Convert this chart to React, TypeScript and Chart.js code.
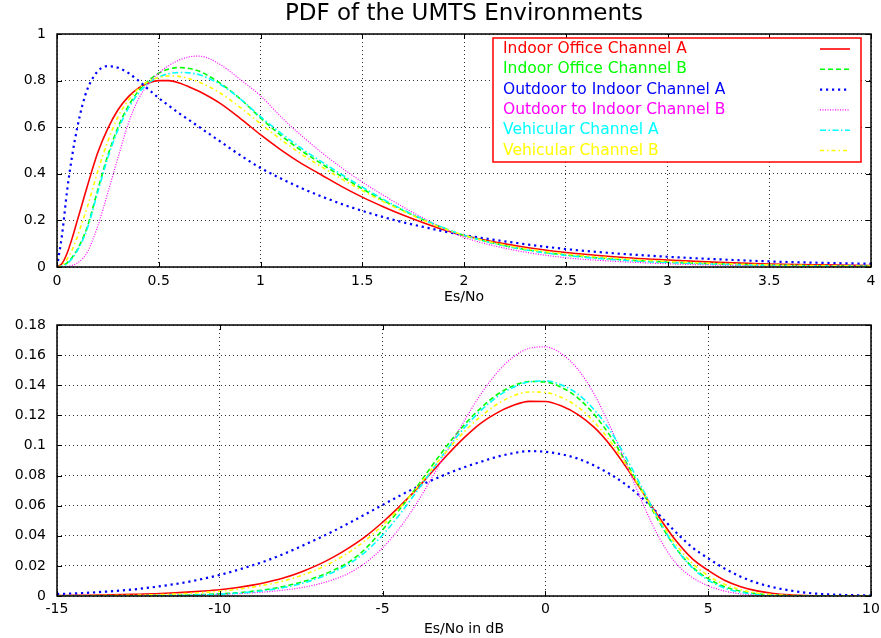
import { useEffect, useRef } from 'react';
import { Chart, registerables } from 'chart.js';

Chart.register(...registerables);

const FONT = "'DejaVu Sans', 'Liberation Sans', sans-serif";

const CHART_TITLE = 'PDF of the UMTS Environments';
const TOP_X_TITLE = 'Es/No';
const BOTTOM_X_TITLE = 'Es/No in dB';

const SERIES_NAMES = [
  'Indoor Office Channel A',
  'Indoor Office Channel B',
  'Outdoor to Indoor Channel A',
  'Outdoor to Indoor Channel B',
  'Vehicular Channel A',
  'Vehicular Channel B',
];
const SERIES_COLORS = ['#ff0000', '#00ff00', '#0000ff', '#ff00ff', '#00ffff', '#ffff00'];
const SERIES_DASH = [[], [5, 3], [2.2, 3.8], [1, 1.5], [6, 2.5, 1.5, 2.5], [4, 3, 1.5, 3]];
const SERIES_WIDTH = [1.6, 1.6, 2.2, 1.2, 1.6, 1.6];

// ---- top panel: linear Es/No ----
const LIN_X = [0, 0.025, 0.05, 0.075, 0.1, 0.125, 0.15, 0.2, 0.25, 0.3, 0.35, 0.4, 0.45, 0.5, 0.55, 0.6, 0.65, 0.7, 0.8, 0.9, 1.0, 1.1, 1.2, 1.3, 1.4, 1.5, 1.6, 1.7, 1.8, 1.9, 2.0, 2.25, 2.5, 2.75, 3.0, 3.25, 3.5, 3.75, 4.0];
const LIN_IO_A = [0, 0.015, 0.06, 0.125, 0.2, 0.275, 0.35, 0.49, 0.595, 0.675, 0.73, 0.768, 0.79, 0.8, 0.8, 0.79, 0.773, 0.753, 0.703, 0.638, 0.568, 0.503, 0.445, 0.395, 0.345, 0.3, 0.26, 0.223, 0.19, 0.16, 0.135, 0.092, 0.062, 0.043, 0.03, 0.02, 0.013, 0.009, 0.006];
const LIN_IO_B = [0, 0.004, 0.018, 0.042, 0.075, 0.12, 0.175, 0.33, 0.48, 0.6, 0.69, 0.755, 0.8, 0.832, 0.85, 0.856, 0.852, 0.84, 0.79, 0.722, 0.64, 0.565, 0.5, 0.443, 0.388, 0.336, 0.287, 0.243, 0.203, 0.167, 0.136, 0.083, 0.052, 0.033, 0.021, 0.013, 0.008, 0.005, 0.003];
const LIN_OI_A = [0, 0.14, 0.33, 0.48, 0.6, 0.695, 0.765, 0.84, 0.862, 0.855, 0.833, 0.8, 0.762, 0.725, 0.692, 0.66, 0.63, 0.6, 0.54, 0.48, 0.425, 0.38, 0.339, 0.303, 0.27, 0.241, 0.215, 0.192, 0.172, 0.153, 0.137, 0.104, 0.077, 0.058, 0.044, 0.033, 0.024, 0.018, 0.014];
const LIN_OI_B = [0, 0, 0.002, 0.007, 0.017, 0.035, 0.065, 0.175, 0.32, 0.47, 0.615, 0.72, 0.787, 0.832, 0.865, 0.888, 0.902, 0.905, 0.87, 0.805, 0.735, 0.645, 0.565, 0.492, 0.425, 0.365, 0.31, 0.258, 0.21, 0.165, 0.127, 0.072, 0.04, 0.024, 0.014, 0.008, 0.005, 0.003, 0.002];
const LIN_VE_A = [0, 0.003, 0.015, 0.038, 0.07, 0.113, 0.168, 0.32, 0.47, 0.59, 0.68, 0.745, 0.79, 0.815, 0.83, 0.835, 0.833, 0.825, 0.785, 0.722, 0.645, 0.575, 0.51, 0.452, 0.396, 0.343, 0.292, 0.246, 0.204, 0.168, 0.136, 0.082, 0.05, 0.031, 0.019, 0.012, 0.007, 0.004, 0.0025];
const LIN_VE_B = [0, 0.008, 0.035, 0.075, 0.13, 0.195, 0.26, 0.41, 0.54, 0.645, 0.715, 0.765, 0.797, 0.813, 0.82, 0.818, 0.808, 0.793, 0.748, 0.685, 0.615, 0.547, 0.485, 0.43, 0.377, 0.328, 0.282, 0.24, 0.2, 0.165, 0.136, 0.086, 0.056, 0.037, 0.024, 0.015, 0.009, 0.006, 0.004];

// ---- bottom panel: Es/No in dB ----
const DB_X = [-15, -14.5, -14, -13.5, -13, -12.5, -12, -11.5, -11, -10.5, -10, -9.5, -9, -8.5, -8, -7.5, -7, -6.5, -6, -5.5, -5, -4.5, -4, -3.5, -3, -2.5, -2, -1.5, -1, -0.5, 0, 0.5, 1, 1.5, 2, 2.5, 3, 3.5, 4, 4.5, 5, 5.5, 6, 6.5, 7, 7.5, 8, 8.5, 9, 9.5, 10];
const DB_IO_A = [0.0003, 0.0004, 0.0005, 0.0007, 0.0009, 0.0012, 0.0015, 0.002, 0.0026, 0.0033, 0.0042, 0.0055, 0.0072, 0.0095, 0.0123, 0.016, 0.0205, 0.026, 0.0325, 0.04, 0.049, 0.059, 0.07, 0.082, 0.094, 0.105, 0.1145, 0.1215, 0.1265, 0.1293, 0.1292, 0.1262, 0.1205, 0.112, 0.1, 0.085, 0.0685, 0.052, 0.037, 0.025, 0.017, 0.0105, 0.0062, 0.0034, 0.0017, 0.0008, 0.0003, 0.0001, 0.00004, 0.00001, 0];
const DB_IO_B = [0.00002, 0.00003, 0.00005, 0.00008, 0.00012, 0.00018, 0.00028, 0.00042, 0.00063, 0.00095, 0.0014, 0.0021, 0.0031, 0.0045, 0.0065, 0.0092, 0.0127, 0.0172, 0.023, 0.032, 0.044, 0.057, 0.071, 0.086, 0.1005, 0.1135, 0.1245, 0.1335, 0.1395, 0.1425, 0.1422, 0.1385, 0.1315, 0.1205, 0.106, 0.088, 0.0685, 0.049, 0.032, 0.0195, 0.0115, 0.0062, 0.0031, 0.0014, 0.0006, 0.0002, 0.00007, 0.00002, 0, 0, 0];
const DB_OI_A = [0.0013, 0.0017, 0.0022, 0.0029, 0.0037, 0.0047, 0.006, 0.0075, 0.0093, 0.0115, 0.014, 0.017, 0.0203, 0.024, 0.0283, 0.033, 0.038, 0.0432, 0.0488, 0.0546, 0.0605, 0.0663, 0.0718, 0.0768, 0.0813, 0.0855, 0.089, 0.0924, 0.0948, 0.0962, 0.0958, 0.0941, 0.0912, 0.0866, 0.0808, 0.0735, 0.0645, 0.0538, 0.0425, 0.0325, 0.025, 0.0183, 0.0128, 0.0087, 0.0058, 0.0037, 0.0022, 0.0013, 0.0008, 0.0005, 0.0003];
const DB_OI_B = [0.00001, 0.00002, 0.00004, 0.00006, 0.0001, 0.00016, 0.00025, 0.00037, 0.00055, 0.0008, 0.0011, 0.0015, 0.0021, 0.0029, 0.004, 0.0055, 0.0078, 0.011, 0.0155, 0.0225, 0.032, 0.0445, 0.06, 0.078, 0.097, 0.116, 0.1335, 0.148, 0.1585, 0.1645, 0.1655, 0.1608, 0.1505, 0.134, 0.112, 0.087, 0.061, 0.0385, 0.022, 0.0125, 0.0068, 0.0033, 0.0014, 0.0005, 0.00015, 0.00004, 0.00001, 0, 0, 0, 0];
const DB_VE_A = [0.00002, 0.00003, 0.00004, 0.00006, 0.0001, 0.00015, 0.00023, 0.00035, 0.00053, 0.0008, 0.0012, 0.0018, 0.0027, 0.004, 0.0058, 0.0083, 0.0117, 0.016, 0.0218, 0.0298, 0.0405, 0.0535, 0.068, 0.083, 0.098, 0.1115, 0.1228, 0.132, 0.1385, 0.1422, 0.1428, 0.1402, 0.134, 0.1237, 0.1095, 0.091, 0.0705, 0.05, 0.032, 0.019, 0.0105, 0.0053, 0.0025, 0.0011, 0.0004, 0.00015, 0.00005, 0.00001, 0, 0, 0];
const DB_VE_B = [0.0001, 0.00014, 0.0002, 0.0003, 0.00042, 0.0006, 0.00085, 0.0012, 0.0017, 0.0024, 0.0032, 0.0044, 0.0059, 0.0078, 0.0102, 0.0135, 0.0177, 0.023, 0.0295, 0.0375, 0.047, 0.058, 0.0705, 0.084, 0.097, 0.109, 0.119, 0.1272, 0.1328, 0.1355, 0.1352, 0.1318, 0.1255, 0.1155, 0.1025, 0.0865, 0.0685, 0.0505, 0.0345, 0.022, 0.0135, 0.0078, 0.0042, 0.002, 0.0009, 0.0004, 0.00015, 0.00005, 0.00001, 0, 0];

const LIN_SERIES = [LIN_IO_A, LIN_IO_B, LIN_OI_A, LIN_OI_B, LIN_VE_A, LIN_VE_B];
const DB_SERIES = [DB_IO_A, DB_IO_B, DB_OI_A, DB_OI_B, DB_VE_A, DB_VE_B];

function makeDatasets(xs: number[], series: number[][]) {
  return series.map((ys, i) => ({
    label: SERIES_NAMES[i],
    data: xs.map((x, j) => ({ x, y: ys[j] })),
    borderColor: SERIES_COLORS[i],
    backgroundColor: SERIES_COLORS[i],
    borderDash: SERIES_DASH[i],
    borderWidth: SERIES_WIDTH[i],
    borderCapStyle: 'butt' as const,
    pointRadius: 0,
    fill: false,
    cubicInterpolationMode: 'monotone' as const,
    order: series.length - 1 - i,
  }));
}

const fmt = (v: number | string) => String(Math.round(Number(v) * 1000) / 1000);

const framePlugin = {
  id: 'gnuFrame',
  afterDatasetsDraw(chart: any) {
    const { ctx, chartArea: a, scales } = chart;
    const L = 5;
    ctx.save();
    ctx.setLineDash([]);
    ctx.strokeStyle = '#000';
    ctx.lineWidth = 1;
    ctx.beginPath();
    scales.x.ticks.forEach((t: any) => {
      const px = Math.round(scales.x.getPixelForValue(t.value)) + 0.5;
      ctx.moveTo(px, a.bottom);
      ctx.lineTo(px, a.bottom - L);
      ctx.moveTo(px, a.top);
      ctx.lineTo(px, a.top + L);
    });
    scales.y.ticks.forEach((t: any) => {
      const py = Math.round(scales.y.getPixelForValue(t.value)) + 0.5;
      ctx.moveTo(a.left, py);
      ctx.lineTo(a.left + L, py);
      ctx.moveTo(a.right, py);
      ctx.lineTo(a.right - L, py);
    });
    ctx.stroke();
    ctx.lineWidth = 1.5;
    ctx.strokeRect(a.left, a.top, a.right - a.left, a.bottom - a.top);
    ctx.restore();
  },
};

const boxLegendPlugin = {
  id: 'boxLegend',
  afterDatasetsDraw(chart: any) {
    const { ctx, chartArea: a } = chart;
    const boxR = a.right - 10;
    const boxL = boxR - 368;
    const boxT = a.top + 4;
    const boxH = 124;
    ctx.save();
    ctx.fillStyle = '#ffffff';
    ctx.fillRect(boxL, boxT, boxR - boxL, boxH);
    ctx.setLineDash([]);
    ctx.strokeStyle = '#ff0000';
    ctx.lineWidth = 1.5;
    ctx.strokeRect(boxL, boxT, boxR - boxL, boxH);
    ctx.font = `15.5px ${FONT}`;
    ctx.textBaseline = 'middle';
    ctx.textAlign = 'left';
    SERIES_NAMES.forEach((name, i) => {
      const y = boxT + 11 + i * 20.3;
      ctx.fillStyle = SERIES_COLORS[i];
      ctx.fillText(name, boxL + 10, y);
      ctx.strokeStyle = SERIES_COLORS[i];
      ctx.lineWidth = SERIES_WIDTH[i];
      ctx.lineCap = 'butt';
      ctx.setLineDash(SERIES_DASH[i]);
      ctx.beginPath();
      ctx.moveTo(boxR - 41, y);
      ctx.lineTo(boxR - 11, y);
      ctx.stroke();
    });
    ctx.restore();
  },
};

function axisCommon(min: number, max: number, step: number, padding: number) {
  return {
    type: 'linear' as const,
    min,
    max,
    ticks: {
      stepSize: step,
      padding,
      color: '#000',
      autoSkip: false,
      maxRotation: 0,
      font: { family: FONT, size: 14 },
      callback: (v: number | string) => fmt(v),
    },
    grid: { color: 'rgba(0,0,0,0.8)', lineWidth: 1, drawTicks: false },
    border: { display: false, dash: [1, 3] },
  };
}

const fitX = (h: number) => (s: any) => {
  s.height = h;
  s.paddingLeft = 0;
  s.paddingRight = 0;
  s.paddingTop = 0;
  s.paddingBottom = 0;
};
const fitY = (w: number) => (s: any) => {
  s.width = w;
  s.paddingLeft = 0;
  s.paddingRight = 0;
  s.paddingTop = 0;
  s.paddingBottom = 0;
};

export default function App() {
  const topRef = useRef<HTMLCanvasElement>(null);
  const botRef = useRef<HTMLCanvasElement>(null);

  useEffect(() => {
    const top = new Chart(topRef.current as HTMLCanvasElement, {
      type: 'line',
      data: { datasets: makeDatasets(LIN_X, LIN_SERIES) as any },
      options: {
        animation: false,
        responsive: false,
        devicePixelRatio: 1,
        events: [],
        layout: { padding: { left: 0, right: 10, top: 0, bottom: 0 } },
        plugins: {
          legend: { display: false },
          tooltip: { enabled: false },
          title: {
            display: true,
            text: CHART_TITLE,
            fullSize: false,
            color: '#000',
            font: { family: FONT, size: 23, weight: 'normal' },
            padding: { top: 0, bottom: 6.4 },
          },
        },
        scales: {
          x: {
            ...axisCommon(0, 4, 0.5, 6),
            afterFit: fitX(43),
            title: { display: true, text: TOP_X_TITLE, color: '#000', font: { family: FONT, size: 14 }, padding: { top: 0, bottom: 4 } },
          },
          y: {
            ...axisCommon(0, 1, 0.2, 11),
            afterFit: fitY(57),
          },
        },
      } as any,
      plugins: [framePlugin, boxLegendPlugin],
    });

    const bottom = new Chart(botRef.current as HTMLCanvasElement, {
      type: 'line',
      data: { datasets: makeDatasets(DB_X, DB_SERIES) as any },
      options: {
        animation: false,
        responsive: false,
        devicePixelRatio: 1,
        events: [],
        layout: { padding: { left: 0, right: 10, top: 15, bottom: 0 } },
        plugins: { legend: { display: false }, tooltip: { enabled: false } },
        scales: {
          x: {
            ...axisCommon(-15, 10, 5, 5),
            afterFit: fitX(42),
            title: { display: true, text: BOTTOM_X_TITLE, color: '#000', font: { family: FONT, size: 14 }, padding: { top: 0, bottom: 0 } },
          },
          y: {
            ...axisCommon(0, 0.18, 0.02, 11),
            afterFit: fitY(57),
          },
        },
      } as any,
      plugins: [framePlugin],
    });

    return () => {
      top.destroy();
      bottom.destroy();
    };
  }, []);

  return (
    <div style={{ position: 'absolute', left: 0, top: 0, width: 881, height: 638, background: '#fff' }}>
      <canvas ref={topRef} width={881} height={310} style={{ display: 'block' }} />
      <canvas ref={botRef} width={881} height={328} style={{ display: 'block' }} />
    </div>
  );
}
